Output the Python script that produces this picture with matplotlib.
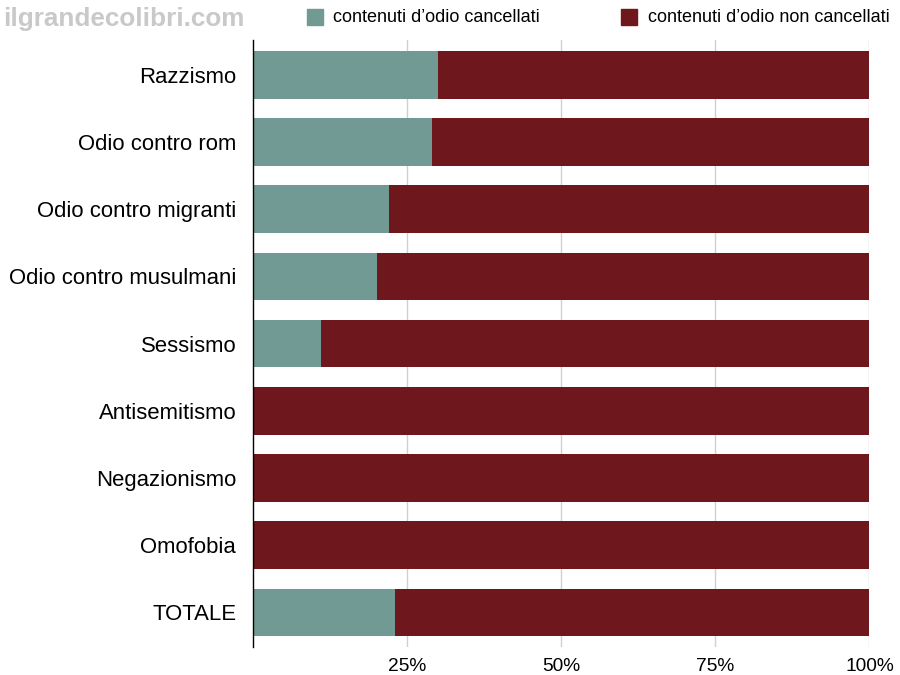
import matplotlib
matplotlib.use("Agg")
import matplotlib.pyplot as plt
from matplotlib.patches import Rectangle

plt.rcParams['font.family'] = ['Liberation Sans', 'DejaVu Sans']

categories = ["Razzismo", "Odio contro rom", "Odio contro migranti",
              "Odio contro musulmani", "Sessismo", "Antisemitismo",
              "Negazionismo", "Omofobia", "TOTALE"]
cancellati = [30.0, 29.1, 22.1, 20.1, 11.0, 0.0, 0.0, 0.0, 23.1]
non_cancellati = [100 - v for v in cancellati]
tick_vals = [25, 50, 75, 100]
tick_labels = ["25%", "50%", "75%", "100%"]

teal = "#729a95"
red = "#6e171c"

fig = plt.figure(figsize=(9, 6.75), dpi=100)
ax = fig.add_axes([0.281, 0.041, 0.685, 0.9])

y = list(range(len(categories)))
ax.barh(y, cancellati, height=0.71, color=teal, zorder=2)
ax.barh(y, non_cancellati, left=cancellati, height=0.71, color=red, zorder=2)

ax.set_xlim(0, 100)
ax.set_ylim(len(categories) - 0.48, -0.52)
ax.set_yticks(y)
ax.set_yticklabels(categories, fontsize=15.9)
ax.set_xticks(tick_vals)
ax.set_xticklabels(tick_labels, fontsize=13.8)
ax.tick_params(axis='both', length=0)
ax.tick_params(axis='y', pad=12)
ax.tick_params(axis='x', pad=8)
ax.grid(axis='x', color="#d0d0d0", linewidth=1, zorder=0)

for side in ['top', 'right', 'bottom']:
    ax.spines[side].set_visible(False)
ax.spines['left'].set_color('black')
ax.spines['left'].set_linewidth(1)

# watermark
fig.text(0.004, 0.972, "ilgrandecolibri.com", fontsize=18.8, fontweight='bold',
         color="#c9c9c9", ha='left', va='center')

# legend
fig.patches.append(Rectangle((307 / 900, 1 - 25 / 675), 16 / 900, 16 / 675,
                             transform=fig.transFigure, color=teal))
fig.text(333 / 900, 1 - 17 / 675, "contenuti d\u2019odio cancellati", fontsize=13,
         ha='left', va='center')
fig.patches.append(Rectangle((621 / 900, 1 - 25 / 675), 16 / 900, 16 / 675,
                             transform=fig.transFigure, color=red))
fig.text(648 / 900, 1 - 17 / 675, "contenuti d\u2019odio non cancellati", fontsize=13,
         ha='left', va='center')

fig.savefig("out.png", dpi=100)
